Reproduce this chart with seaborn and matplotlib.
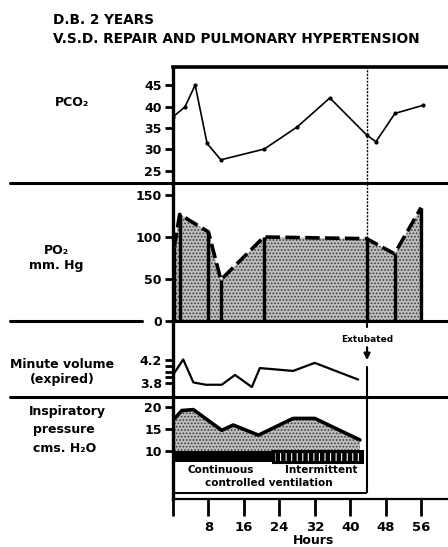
import numpy as np
import matplotlib.pyplot as plt
from matplotlib.lines import Line2D
import seaborn as sns

# ---- data ----
pco2_hours = [0, 2.7, 5, 7.7, 10.8, 20.6, 28.1, 35.4, 43.7, 45.8, 50.1, 56.5]
pco2 = [37.6, 39.9, 45, 31.4, 27.6, 30.1, 35.3, 42, 33.4, 31.8, 38.4, 40.3]

po2_hours = [0.3, 1.5, 8, 10.8, 20.5, 43.7, 50, 56]
po2 = [88, 127, 106, 49, 100, 98, 80, 135]

mv_hours = [0, 2.3, 4.6, 7.4, 11, 14, 17.8, 19.6, 27.1, 32, 41.8]
mv = [3.94, 4.21, 3.81, 3.77, 3.77, 3.94, 3.73, 4.06, 4.01, 4.15, 3.86]

ip_hours = [0, 2, 4.6, 11, 13.6, 19.3, 27.1, 32, 42.2]
ip = [17.0, 19.2, 19.4, 14.7, 15.9, 13.6, 17.4, 17.4, 12.5]

vent_labels = ["Continuous", "Intermittent"]
vent_start = [0, 22.6]
vent_end = [22.6, 42.6]

extubated_hour = 43.8
hour_ticks = [0, 8, 16, 24, 32, 40, 48, 56]

W, H = 448, 547
sns.set_style("ticks")
plt.rcParams['font.family'] = ['DejaVu Sans']
plt.rcParams['font.weight'] = 'bold'
plt.rcParams['hatch.linewidth'] = 0.8
for k in ('text.color', 'axes.labelcolor', 'xtick.color', 'ytick.color', 'axes.edgecolor'):
    plt.rcParams[k] = 'black'

fig = plt.figure(figsize=(W / 100, H / 100), dpi=100)


def px_axes(left, top, right, bottom):
    return fig.add_axes([left / W, 1 - bottom / H, (right - left) / W, (bottom - top) / H])


def fig_text(x, y, s, **kw):
    fig.text(x / W, 1 - y / H, s, **kw)


def fig_hline(y, x0, x1, lw=2.2):
    fig.add_artist(Line2D([x0 / W, x1 / W], [1 - y / H, 1 - y / H], color='black', lw=lw))


xmax = (448 - 173) / 4.43
ax1 = px_axes(173, 67, 448, 183)
ax2 = px_axes(173, 183, 448, 321)
ax3 = px_axes(173, 321, 448, 397)
ax4 = px_axes(173, 397, 448, 499)

for ax in (ax1, ax2, ax3, ax4):
    ax.set_xlim(0, xmax)
    ax.set_facecolor('white')
    for s in ('right', 'top', 'bottom'):
        ax.spines[s].set_visible(False)
    ax.spines['left'].set_linewidth(2.4)
    ax.tick_params(axis='y', direction='out', length=6, width=2, labelsize=9, pad=2)
    ax.set_xlabel('')
    ax.set_ylabel('')
for ax in (ax1, ax2, ax3):
    ax.set_xticks([])

fill_kw = dict(facecolor='#bdbdbd', edgecolor='#3c3c3c', hatch='.....', lw=0)

# PCO2
ax1.spines['top'].set_visible(True)
ax1.spines['top'].set_linewidth(2.6)
sns.lineplot(x=pco2_hours, y=pco2, ax=ax1, color='black', lw=1.2,
             marker='o', markersize=3, markeredgewidth=0)
ax1.set_ylim(22.2, 49.2)
ax1.set_yticks([25, 30, 35, 40, 45])
ax1.axvline(extubated_hour, color='black', lw=1, ls=(0, (1.5, 1)))

# PO2
ax2.fill_between(po2_hours, po2, 0, **fill_kw)
ax2.vlines(po2_hours, 0, po2, color='black', lw=2.4)
sns.lineplot(x=po2_hours, y=po2, ax=ax2, color='black', lw=2.6)
ax2.lines[-1].set_linestyle((0, (4, 1.5)))
ax2.set_ylim(0, 164.3)
ax2.set_yticks([0, 50, 100, 150])
ax2.axvline(extubated_hour, color='black', lw=1, ls=(0, (1.5, 1)))

# minute volume
sns.lineplot(x=mv_hours, y=mv, ax=ax3, color='black', lw=1.6)
ax3.set_ylim(3.557, 4.878)
ax3.set_yticks([3.8, 4.2])
ax3.set_yticklabels(['3.8', '4.2'])
ax3.set_yticks([3.9, 4.0, 4.1], minor=True)
ax3.tick_params(axis='y', which='minor', direction='out', length=6, width=2)
ax3.axvline(extubated_hour, ymin=0.92, ymax=1, color='black', lw=1.5)
ax3.axvline(extubated_hour, ymin=0, ymax=0.39, color='black', lw=1.5)
ax3.annotate('', xy=(extubated_hour, 4.15), xytext=(extubated_hour, 4.47),
             arrowprops=dict(arrowstyle='-|>', color='black', lw=1.6, mutation_scale=9))
ax3.text(extubated_hour, 4.55, 'Extubated', ha='center', va='center', fontsize=6.5)

# inspiratory pressure
ax4.fill_between(ip_hours, ip, 10, **fill_kw)
sns.lineplot(x=ip_hours, y=ip, ax=ax4, color='black', lw=2.6)
ax4.barh(8.8, vent_end[0] - vent_start[0], left=vent_start[0], height=2.4,
         color='black', lw=0)
ax4.barh(8.8, vent_end[1] - vent_start[1], left=vent_start[1], height=2.4,
         facecolor='black', edgecolor='white', hatch='|||', lw=0)
ax4.barh(8.8, vent_end[1] - vent_start[1], left=vent_start[1], height=2.4,
         facecolor='none', edgecolor='black', lw=2.2)
ax4.text(10.8, 5.7, vent_labels[0], ha='center', va='center', fontsize=7.5)
ax4.text(33.4, 5.7, vent_labels[1], ha='center', va='center', fontsize=7.5)
ax4.text(21.7, 2.7, 'controlled ventilation', ha='center', va='center', fontsize=7.5)
ax4.hlines(0.45, 0, extubated_hour, color='black', lw=1.5)
ax4.vlines(extubated_hour, 0.45, 22.27, color='black', lw=1.5)
ax4.set_ylim(-0.91, 22.27)
ax4.set_yticks([10, 15, 20])
ax4.spines['bottom'].set_visible(True)
ax4.spines['bottom'].set_linewidth(1.6)
ax4.set_xticks(hour_ticks)
ax4.set_xticklabels([''] + [str(h) for h in hour_ticks[1:]])
ax4.tick_params(axis='x', direction='out', length=12, width=2, labelsize=9.5, pad=4)

# separators
fig_hline(183, 10, 448)
fig_hline(321, 10, 142)
fig_hline(321, 173, 448)
fig_hline(397, 10, 448)

# titles and row labels
fig_text(53, 20, 'D.B. 2 YEARS', fontsize=9.8, va='center', ha='left')
fig_text(53, 38.5, 'V.S.D. REPAIR AND PULMONARY HYPERTENSION', fontsize=9.8, va='center', ha='left')
fig_text(72, 102, 'PCO₂', fontsize=9, ha='center', va='center')
fig_text(56, 250, 'PO₂', fontsize=9, ha='center', va='center')
fig_text(56, 266, 'mm. Hg', fontsize=9, ha='center', va='center')
fig_text(62, 365, 'Minute volume', fontsize=9, ha='center', va='center')
fig_text(62, 379, '(expired)', fontsize=9, ha='center', va='center')
fig_text(67, 412, 'Inspiratory', fontsize=9, ha='center', va='center')
fig_text(64, 429, 'pressure', fontsize=9, ha='center', va='center')
fig_text(65, 448, 'cms. H₂O', fontsize=9, ha='center', va='center')
fig_text(314, 541, 'Hours', fontsize=9, ha='center', va='center')

fig.savefig('out.png', dpi=100)
